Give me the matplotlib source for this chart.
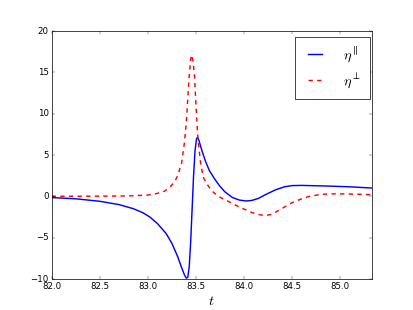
import matplotlib
matplotlib.use("Agg")
import matplotlib.pyplot as plt

t_par = [82.0, 82.25, 82.5, 82.7, 82.85, 82.95, 83.02, 83.1, 83.19, 83.25, 83.31, 83.35,
         83.38, 83.40, 83.415, 83.43, 83.445, 83.46, 83.475, 83.49, 83.505, 83.515,
         83.53, 83.56, 83.6, 83.64, 83.7, 83.75, 83.8, 83.88, 83.95, 84.02, 84.08,
         84.15, 84.23, 84.33, 84.42, 84.5, 84.6, 84.85, 85.1, 85.33]
eta_par = [-0.15, -0.3, -0.6, -1.0, -1.5, -2.0, -2.5, -3.3, -4.5, -5.7, -7.3, -8.6,
           -9.5, -9.9, -9.8, -8.5, -5.5, -1.5, 2.5, 5.5, 6.9, 7.15,
           6.8, 5.6, 4.2, 3.1, 2.0, 1.2, 0.55, -0.15, -0.45, -0.56, -0.5,
           -0.25, 0.25, 0.8, 1.15, 1.3, 1.32, 1.25, 1.15, 1.0]

t_perp = [82.0, 82.5, 82.8, 83.0, 83.09, 83.17, 83.23, 83.28, 83.31, 83.35, 83.38, 83.40,
          83.426, 83.445, 83.457, 83.47, 83.485, 83.5, 83.52, 83.55, 83.58, 83.62,
          83.66, 83.72, 83.78, 83.87, 83.95, 84.09, 84.17, 84.23, 84.28, 84.33, 84.42,
          84.51, 84.6, 84.68, 84.78, 84.89, 85.05, 85.2, 85.33]
eta_perp = [0.0, 0.02, 0.05, 0.15, 0.33, 0.6, 1.1, 1.8, 2.5, 4.0, 6.5, 9.0,
            14.0, 16.6, 17.1, 16.3, 14.5, 11.0, 7.0, 3.8, 2.2, 1.4,
            0.7, 0.1, -0.3, -0.8, -1.3, -2.0, -2.25, -2.3, -2.2, -1.9, -1.3,
            -0.7, -0.3, 0.0, 0.2, 0.3, 0.3, 0.25, 0.2]

labels = [r'$\eta^{\parallel}$', r'$\eta^{\perp}$']
xticks = [82.0, 82.5, 83.0, 83.5, 84.0, 84.5, 85.0]
yticks = [-10, -5, 0, 5, 10, 15, 20]

plt.style.use('classic')
fig = plt.figure(figsize=(8, 6), dpi=51.67)
ax = fig.add_subplot(111)
ax.plot(t_par, eta_par, 'b-', lw=2, label=labels[0])
ax.plot(t_perp, eta_perp, 'r--', lw=2, label=labels[1])
ax.set_xlim(82.0, 85.33)
ax.set_ylim(-10, 20)
ax.set_xticks(xticks)
ax.set_yticks(yticks)
ax.set_xlabel(r'$t$', fontsize=20)
ax.legend(loc='upper right', bbox_to_anchor=(0.994, 0.976), borderaxespad=0,
          fontsize=20, handlelength=1.6, handletextpad=1.2, borderpad=0.6,
          labelspacing=0.5)
fig.savefig('out.png', dpi=51.67)
